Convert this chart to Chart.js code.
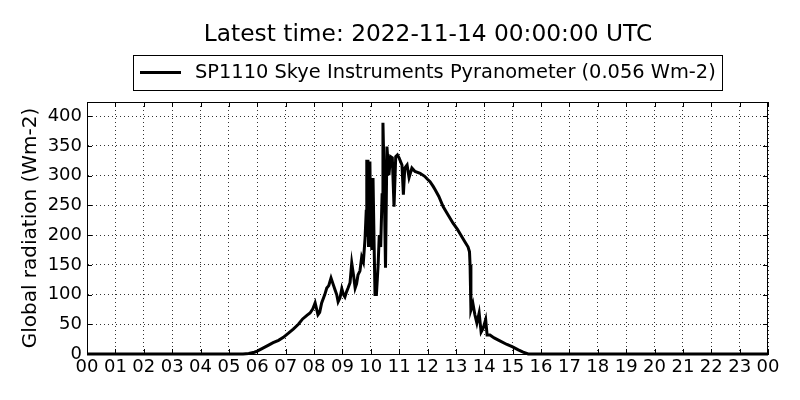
<!DOCTYPE html>
<html>
<head>
<meta charset="utf-8">
<script src="https://cdn.jsdelivr.net/npm/chart.js@4.4.1/dist/chart.umd.min.js"></script>
<style>
html,body{margin:0;padding:0;background:#fff;}
#wrap{width:800px;height:400px;position:relative;}
</style>
</head>
<body>
<div id="wrap"><canvas id="c" width="800" height="400"></canvas></div>
<script>
const titleText = "Latest time: 2022-11-14 00:00:00 UTC";
const seriesName = "SP1110 Skye Instruments Pyranometer (0.056 Wm-2)";
const yAxisLabel = "Global radiation (Wm-2)";
const hourTicks = ["00","01","02","03","04","05","06","07","08","09","10","11","12","13","14","15","16","17","18","19","20","21","22","23","00"];
const yTicks = [0,50,100,150,200,250,300,350,400];

const hours = [0,5.5,5.7,5.9,6.0,6.2,6.4,6.56,6.75,6.92,7.1,7.27,7.45,7.6,7.75,7.86,7.96,8.04,8.14,8.2,8.27,8.38,8.45,8.52,8.6,8.67,8.74,8.8,8.85,8.92,8.98,9.04,9.09,9.15,9.2,9.27,9.33,9.4,9.45,9.5,9.55,9.62,9.68,9.74,9.8,9.84,9.86,9.88,9.9,9.92,9.94,9.97,10.0,10.04,10.08,10.12,10.15,10.2,10.26,10.3,10.35,10.4,10.43,10.47,10.52,10.57,10.64,10.7,10.76,10.82,10.88,10.94,11.0,11.1,11.15,11.2,11.28,11.35,11.45,11.56,11.74,11.9,12.0,12.09,12.2,12.26,12.4,12.55,12.7,12.9,13.05,13.2,13.3,13.43,13.48,13.5,13.53,13.6,13.67,13.74,13.82,13.89,13.96,14.05,14.1,14.2,14.35,14.55,14.8,15.0,15.2,15.37,15.55,15.7,24];
const radiation = [0,0,1,3,5,10,15,19,23,28,35,42,50,59,65,69,76,86,66,70,86,100,111,115,128,118,108,100,88,95,110,100,96,105,111,120,153,130,111,118,133,140,163,155,195,240,327,200,327,180,250,324,200,175,296,180,100,100,150,200,180,268,389,300,145,349,301,332,330,248,332,335,330,318,268,313,318,297,313,307,304,299,294,290,282,277,265,248,236,220,210,198,190,180,172,150,74,85,66,52,69,37,43,58,32,32,27,22,16,12,7,3,0,0,0];

const FONT = "'DejaVu Sans', sans-serif";

const frame = {
  id: 'frame',
  afterDraw(chart) {
    const ctx = chart.ctx, a = chart.chartArea;
    const xs = chart.scales.x, ys = chart.scales.y;
    ctx.save();
    ctx.strokeStyle = '#000';
    ctx.lineWidth = 1;
    ctx.strokeRect(a.left + 0.5, a.top + 0.5, a.right - a.left - 1, a.bottom - a.top);
    ctx.beginPath();
    for (let i = 0; i < hourTicks.length; i++) {
      const px = Math.round(xs.getPixelForValue(i)) + 0.5;
      ctx.moveTo(px, a.bottom); ctx.lineTo(px, a.bottom - 5);
      ctx.moveTo(px, a.top); ctx.lineTo(px, a.top + 5);
    }
    for (const v of yTicks) {
      const py = Math.round(ys.getPixelForValue(v)) + 0.5;
      ctx.moveTo(a.left, py); ctx.lineTo(a.left + 5, py);
      ctx.moveTo(a.right, py); ctx.lineTo(a.right - 5, py);
    }
    ctx.stroke();
    // title
    ctx.fillStyle = '#000';
    ctx.font = "23.3px " + FONT;
    ctx.textAlign = 'center';
    ctx.textBaseline = 'middle';
    ctx.fillText(titleText, 428, 35);
    // legend box
    ctx.fillStyle = '#fff';
    ctx.fillRect(133, 55, 589, 35);
    ctx.strokeStyle = '#000';
    ctx.strokeRect(133.5, 55.5, 589, 35);
    ctx.beginPath();
    ctx.lineWidth = 3;
    ctx.moveTo(140, 72.5); ctx.lineTo(181, 72.5);
    ctx.stroke();
    ctx.fillStyle = '#000';
    ctx.font = "19.4px " + FONT;
    ctx.textAlign = 'left';
    ctx.fillText(seriesName, 195, 73);
    ctx.restore();
  }
};

new Chart(document.getElementById('c'), {
  type: 'line',
  data: {
    datasets: [{
      label: seriesName,
      data: hours.map((h, i) => ({x: h, y: radiation[i]})),
      borderColor: '#000',
      backgroundColor: '#000',
      borderWidth: 3,
      pointRadius: 0,
      tension: 0,
      clip: false
    }]
  },
  options: {
    responsive: false,
    animation: false,
    devicePixelRatio: 1,
    layout: {padding: {left: 0, right: 32, top: 102, bottom: 0}},
    plugins: {legend: {display: false}, title: {display: false}, tooltip: {enabled: false}},
    scales: {
      x: {
        type: 'linear', min: 0, max: 24,
        afterFit(s) { s.height = 46; },
        afterBuildTicks(s) { s.ticks = hourTicks.map((t, i) => ({value: i})); },
        ticks: {
          autoSkip: false, maxRotation: 0, padding: 3, color: '#000',
          font: {family: FONT, size: 18},
          callback: (v) => hourTicks[Math.round(v)]
        },
        grid: {color: 'rgba(0,0,0,0.8)', lineWidth: 1, drawTicks: false},
        border: {display: true, color: '#000', dash: [1,3]},
      },
      y: {
        min: 0, max: 424,
        afterFit(s) { s.width = 87; },
        afterBuildTicks(s) { s.ticks = yTicks.map(v => ({value: v})); },
        ticks: {padding: 5, color: '#000', font: {family: FONT, size: 18}},
        grid: {color: 'rgba(0,0,0,0.8)', lineWidth: 1, drawTicks: false},
        border: {display: true, color: '#000', dash: [1,3]},
        title: {display: true, text: yAxisLabel, color: '#000', font: {family: FONT, size: 20}, padding: {top: 19, bottom: 0}}
      }
    }
  },
  plugins: [frame]
});
</script>
</body>
</html>
